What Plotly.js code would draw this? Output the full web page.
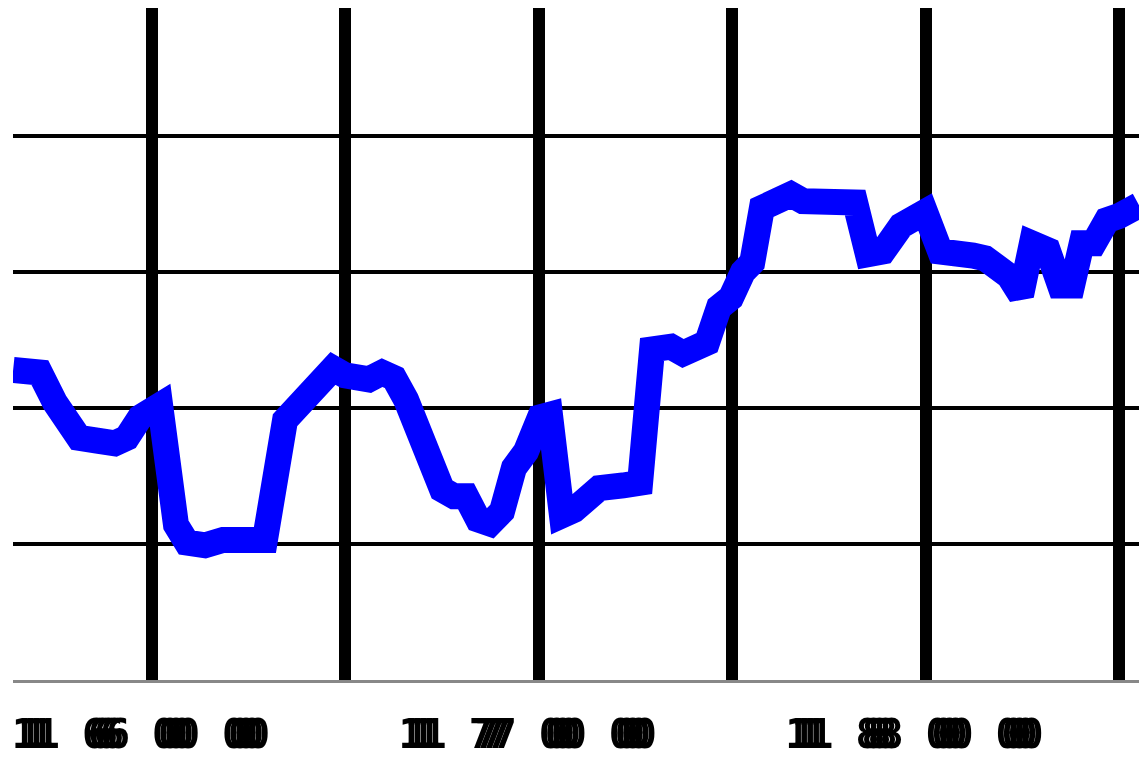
<!DOCTYPE html>
<html>
<head>
<meta charset="utf-8">
<script src="https://cdn.plot.ly/plotly-3.0.1.min.js"></script>
<style>
  html, body { margin: 0; padding: 0; background: #fff; }
  #chart { width: 1139px; height: 757px; }
  .xtick text { letter-spacing: 46px; filter: grayscale(1); }
</style>
</head>
<body>
<div id="chart"></div>
<script>
// Years (x) and values (y)
const years = [
  1564.1, 1571.0, 1574.9, 1578.0, 1581.1, 1585.8, 1590.4, 1593.5, 1596.9, 1602.1,
  1606.2, 1609.0, 1613.7, 1618.4, 1629.2, 1634.4, 1637.5, 1640.6, 1643.7, 1646.8,
  1649.9, 1653.0, 1656.1, 1659.5, 1662.6, 1665.7, 1668.8, 1671.9, 1675.0, 1678.1,
  1681.2, 1684.3, 1687.4, 1690.5, 1693.6, 1696.7, 1700.3, 1702.9, 1706.0, 1709.1,
  1712.5, 1715.6, 1721.8, 1726.2, 1729.3, 1734.2, 1737.3, 1740.4, 1743.5, 1746.6,
  1749.7, 1752.8, 1755.2, 1757.7, 1762.1, 1765.2, 1768.3, 1781.8, 1785.1, 1789.0,
  1793.7, 1797.3, 1799.9, 1803.8, 1807.6, 1812.3, 1815.4, 1818.5, 1821.6, 1824.7,
  1827.5, 1831.6, 1834.8, 1837.9, 1840.4, 1843.5, 1846.9, 1850.0, 1855.2
];
const values = [
  2.28, 2.26, 2.04, 1.86, 1.78, 1.76, 1.74, 1.78, 1.93, 2.02,
  1.14, 1.01, 0.99, 1.03, 1.03, 1.91, 1.99, 2.13, 2.18, 2.29,
  2.24, 2.24, 2.21, 2.26, 2.22, 2.06, 1.79, 1.65, 1.40, 1.35,
  1.35, 1.18, 1.15, 1.24, 1.56, 1.68, 1.93, 1.95, 1.21, 1.25,
  1.35, 1.41, 1.43, 1.45, 2.43, 2.45, 2.40, 2.46, 2.48, 2.74,
  2.81, 3.00, 3.07, 3.47, 3.52, 3.57, 3.52, 3.51, 3.13, 3.15,
  3.34, 3.43, 3.44, 3.15, 3.15, 3.12, 3.10, 3.04, 2.97, 2.83,
  3.21, 3.16, 2.90, 2.90, 3.21, 3.21, 3.38, 3.41, 3.49
];
const xTickVals = [1600, 1700, 1800];
const xTickText = ["1600", "1700", "1800"];
const yGridVals = [1, 2, 3, 4];

const trace = {
  x: years,
  y: values,
  type: 'scatter',
  mode: 'lines',
  line: { color: '#0000ff', width: 26 },
  hoverinfo: 'skip'
};

const layout = {
  width: 1139,
  height: 757,
  margin: { l: 13, r: 0, t: 8, b: 77, pad: 0 },
  paper_bgcolor: '#ffffff',
  plot_bgcolor: '#ffffff',
  showlegend: false,
  xaxis: {
    range: [1564.06, 1855.2],
    tickmode: 'array',
    tickvals: xTickVals,
    ticktext: xTickText,
    showgrid: true,
    gridcolor: '#000000',
    gridwidth: 12,
    minor: { dtick: 50, tick0: 1600, showgrid: true, gridcolor: '#000000', gridwidth: 12, ticks: '' },
    showline: true,
    linecolor: '#888888',
    linewidth: 3,
    zeroline: false,
    ticks: '',
    automargin: false,
    ticklabelstandoff: 17,
    tickfont: {
      family: 'DejaVu Sans Mono',
      size: 40,
      weight: 'bold',
      color: '#000000',
      shadow: '6px 0 0 #000, 12px 0 0 #000, 18px 0 0 #000, 24px 0 0 #000'
    },
    fixedrange: true
  },
  yaxis: {
    range: [0, 4.94],
    tickmode: 'array',
    tickvals: yGridVals,
    showticklabels: false,
    showgrid: true,
    gridcolor: '#000000',
    gridwidth: 4,
    zeroline: false,
    showline: false,
    ticks: '',
    automargin: false,
    fixedrange: true
  }
};

Plotly.newPlot('chart', [trace], layout, { displayModeBar: false, staticPlot: true });
</script>
</body>
</html>
